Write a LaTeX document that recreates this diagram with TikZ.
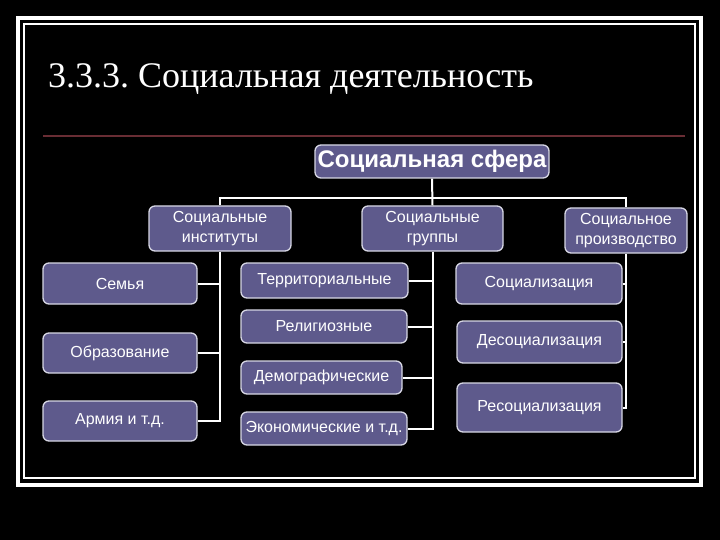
\documentclass[tikz,border=0pt]{standalone}
\usepackage{fontspec}
\setmainfont{Liberation Serif}
\setsansfont{Liberation Sans}
\definecolor{boxfill}{RGB}{94,90,140}
\definecolor{boxborder}{RGB}{215,215,228}
\definecolor{redline}{RGB}{105,45,52}
\begin{document}
\frenchspacing
\begin{tikzpicture}[x=1pt,y=-1pt,
  box/.style={draw=boxborder, line width=1.3pt, fill=boxfill, rounded corners=6pt,
    text=white, inner sep=0pt, align=center,
    font=\sffamily\fontsize{16}{19.5}\selectfont},
  conn/.style={draw=white, line width=2pt}]
\fill[black] (0,0) rectangle (720,540);
\useasboundingbox (0,0) rectangle (720,540);
% frame
\draw[white, line width=4pt] (18,18) rectangle (701,485);
\draw[white, line width=1.2pt] (24,24) rectangle (695,478);
% title
\node[anchor=base west, inner sep=0pt, text=white, font=\fontsize{36}{40}\selectfont] (title) at (48,88) {3.3.3. Социальная деятельность};
\draw[redline, line width=1.3pt] (43,136) -- (685,136);
% nodes
\node[box, minimum width=234pt, minimum height=33pt, font=\sffamily\bfseries\fontsize{24}{27}\selectfont] (sfera) at (432,161.5) {Социальная сфера};
\node[box, minimum width=142pt, minimum height=45pt] (inst) at (220,228.5) {Социальные\\институты};
\node[box, minimum width=141pt, minimum height=45pt] (grp) at (432.5,228.5) {Социальные\\группы};
\node[box, minimum width=122pt, minimum height=45pt] (proizv) at (626,230.5) {Социальное\\производство};
\node[box, minimum width=154pt, minimum height=41pt] (semya) at (120,283.5) {Семья};
\node[box, minimum width=154pt, minimum height=40pt] (obraz) at (120,353) {Образование};
\node[box, minimum width=154pt, minimum height=40pt] (armiya) at (120,421) {Армия и т.д.};
\node[box, minimum width=167pt, minimum height=35pt] (terr) at (324.5,280.5) {Территориальные};
\node[box, minimum width=166pt, minimum height=33pt] (relig) at (324,326.5) {Религиозные};
\node[box, minimum width=161pt, minimum height=33pt] (demog) at (321.5,377.5) {Демографические};
\node[box, minimum width=166pt, minimum height=33pt] (ekon) at (324,428.5) {Экономические и т.д.};
\node[box, minimum width=166pt, minimum height=41pt] (soc) at (539,283.5) {Социализация};
\node[box, minimum width=165pt, minimum height=42pt] (desoc) at (539.5,342) {Десоциализация};
\node[box, minimum width=165pt, minimum height=49pt] (resoc) at (539.5,407.5) {Ресоциализация};
% connectors
\coordinate (bus) at (432,198);
\draw[conn] (sfera.south) -- (grp.north);
\draw[conn] (inst.north) |- (bus) -| (proizv.north);
\draw[conn] (inst.south) |- (armiya.east);
\draw[conn] (semya.east) -- (semya.east -| inst.south);
\draw[conn] (obraz.east) -- (obraz.east -| inst.south);
\draw[conn] (grp.south) |- (ekon.east);
\draw[conn] (terr.east) -- (terr.east -| grp.south);
\draw[conn] (relig.east) -- (relig.east -| grp.south);
\draw[conn] (demog.east) -- (demog.east -| grp.south);
\draw[conn] (proizv.south) -- ++(0,155);
\draw[conn] (soc.east) -- ++(4,0);
\draw[conn] (desoc.east) -- ++(4,0);
\draw[conn] (resoc.east) -- ++(4,0);
\end{tikzpicture}
\end{document}
